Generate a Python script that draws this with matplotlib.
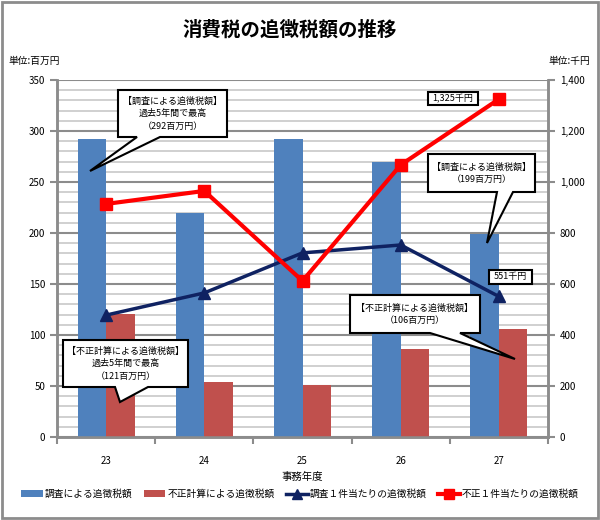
import matplotlib
matplotlib.use("Agg")
import matplotlib.pyplot as plt
from matplotlib.patches import Polygon, Rectangle
from matplotlib.ticker import MultipleLocator, FuncFormatter
import numpy as np

plt.rcParams['font.family'] = ['Noto Sans CJK JP', 'DejaVu Sans']

years = ['23', '24', '25', '26', '27']
chousa = [292, 220, 292, 270, 199]          # 百万円
fusei = [121, 54, 51, 86, 106]              # 百万円
chousa_per = [478, 565, 722, 753, 551]      # 千円
fusei_per = [914, 965, 612, 1067, 1325]     # 千円

W, H = 600, 520
fig = plt.figure(figsize=(6, 5.2), dpi=100)
ax = fig.add_axes([57 / W, 1 - 437 / H, (548 - 57) / W, (437 - 80) / H])
ax2 = ax.twinx()

x = np.arange(len(years))
bw = 0.29
ax.bar(x - bw / 2, chousa, bw, color='#4F81BD', label='調査による追徴税額', zorder=3)
ax.bar(x + bw / 2, fusei, bw, color='#C0504D', label='不正計算による追徴税額', zorder=3)

ax2.plot(x, chousa_per, color='#0F2262', lw=2.5, marker='^', ms=9,
         label='調査１件当たりの追徴税額', zorder=4)
ax2.plot(x, fusei_per, color='#FF0000', lw=3, marker='s', ms=9,
         label='不正１件当たりの追徴税額', zorder=4)

ax.set_xlim(-0.5, 4.5)
ax.set_ylim(0, 350)
ax2.set_ylim(0, 1400)
ax.yaxis.set_major_locator(MultipleLocator(50))
ax.yaxis.set_minor_locator(MultipleLocator(10))
ax2.yaxis.set_major_locator(MultipleLocator(200))
ax2.yaxis.set_major_formatter(FuncFormatter(lambda v, p: f'{int(v):,}'))
ax.grid(which='major', axis='y', color='#8C8C8C', lw=1.5, zorder=1)
ax.grid(which='minor', axis='y', color='#C4C4C4', lw=1.1, zorder=1)
ax.set_axisbelow(True)

ax.set_xticks(x)
ax.set_xticklabels(years)
ax.set_xticks(np.arange(-0.5, 5, 1), minor=True)
ax.tick_params(axis='x', which='major', length=0, pad=14, labelsize=7)
ax.tick_params(axis='x', which='minor', length=5, color='#8C8C8C', width=1.5)
ax.tick_params(axis='y', which='major', length=5, color='#8C8C8C', width=1.5, labelsize=7)
ax.tick_params(axis='y', which='minor', length=0)
ax2.tick_params(axis='y', length=5, color='#8C8C8C', width=1.5, labelsize=7)
ax.set_xlabel('事務年度', fontsize=7.5, labelpad=4)

for a in (ax, ax2):
    for s in ('left', 'right', 'bottom'):
        a.spines[s].set_color('#8C8C8C')
        a.spines[s].set_linewidth(1.8)
    a.spines['top'].set_visible(False)

fig.text(290 / W, 1 - 30 / H, '消費税の追徴税額の推移', ha='center', va='center',
         fontsize=14, fontweight='bold')
fig.text(8 / W, 1 - 61 / H, '単位:百万円', ha='left', va='center', fontsize=7)
fig.text(590 / W, 1 - 61 / H, '単位:千円', ha='right', va='center', fontsize=7)

fig.legend(loc='center', bbox_to_anchor=(0.5, 1 - 494 / H), ncol=4, frameon=False,
           fontsize=7, handlelength=2.2, columnspacing=1.2, handletextpad=0.2,
           markerscale=0.75)

# outer frame
fig.patches.append(Rectangle((0.004, 0.004), 0.992, 0.992, transform=fig.transFigure,
                             fill=False, ec='#8C8C8C', lw=2))


def px(p):
    return (p[0] / W, 1 - p[1] / H)


def callout(box, text, wedge=None, fs=6.5):
    x0, y0, x1, y1 = box
    pts = [(x0, y0), (x1, y0), (x1, y1)]
    if wedge:
        b0, b1, tip = wedge
        pts += [(b1, y1), tip, (b0, y1)]
    pts += [(x0, y1)]
    fig.patches.append(Polygon([px(p) for p in pts], closed=True, transform=fig.transFigure,
                               fc='white', ec='black', lw=1.5, zorder=10))
    fig.text((x0 + x1) / 2 / W, 1 - (y0 + y1) / 2 / H, text, ha='center', va='center',
             fontsize=fs, linespacing=1.5, zorder=11)


callout((118, 90, 227, 137), '【調査による追徴税額】\n過去5年間で最高\n（292百万円）',
        wedge=(137, 160, (90, 171)))
callout((428, 92, 478, 105), '1,325千円')
callout((428, 154, 535, 192), '【調査による追徴税額】\n（199百万円）',
        wedge=(497, 513, (487, 243)))
callout((489, 270, 532, 284), '551千円')
callout((350, 295, 480, 333), '【不正計算による追徴税額】\n（106百万円）',
        wedge=(430, 460, (515, 359)))
callout((63, 340, 188, 387), '【不正計算による追徴税額】\n過去5年間で最高\n（121百万円）',
        wedge=(115, 148, (120, 402)))

fig.savefig('out.png', dpi=100)
